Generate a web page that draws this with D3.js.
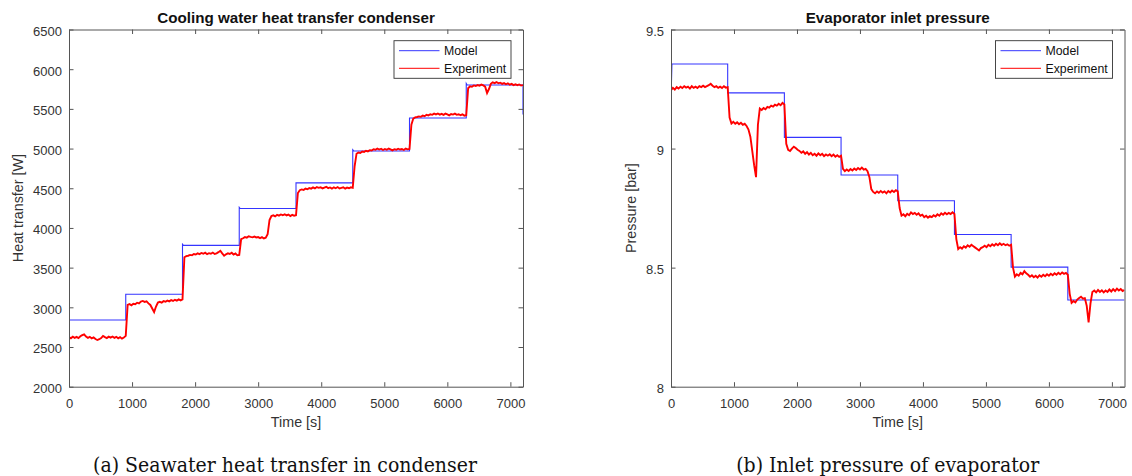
<!DOCTYPE html>
<html>
<head>
<meta charset="utf-8">
<title>Model vs experiment</title>
<script src="https://cdn.jsdelivr.net/npm/d3@7"></script>
<style>
    body { margin: 0; background: #fff; }
    svg text { font-family: "Liberation Sans", Arial, Helvetica, sans-serif; }
</style>
</head>
<body>
<svg id="fig" width="1132" height="476"></svg>
<script>
// ---- data ----
const dt = 30; // spacing of the logged experiment samples [s]
const xTicks = [0, 1000, 2000, 3000, 4000, 5000, 6000, 7000];
const qTicks = [2000, 2500, 3000, 3500, 4000, 4500, 5000, 5500, 6000, 6500];
const pTicks = [8, 8.5, 9, 9.5];
const legendLabels = ["Model", "Experiment"];

// model: step changes every 900 s
const qModelT = [0, 0, 900, 900, 1800, 1800, 1815, 2700, 2700, 2715, 3600, 3600, 4500, 4500, 4515, 5400, 5400, 6300, 6300, 6315, 7200, 7200];
const qModel  = [3540, 2840, 2840, 3165, 3165, 3795, 3780, 3780, 4260, 4245, 4245, 4568, 4568, 4985, 4970, 4970, 5385, 5385, 5820, 5800, 5800, 5430];

const pModelT = [0, 15, 900, 900, 1800, 1800, 2700, 2700, 3600, 3600, 4500, 4500, 5400, 5400, 6300, 6300, 7200];
const pModel  = [9.20, 9.355, 9.355, 9.234, 9.234, 9.047, 9.047, 8.889, 8.889, 8.781, 8.781, 8.639, 8.639, 8.502, 8.502, 8.364, 8.364];

// experiment: heat transfer [W], one value every dt seconds from 0 to 7200
const qExp = [
    2625, 2610, 2630, 2615, 2628, 2612, 2635, 2650, 2660, 2632, 2615, 2628, 2608, 2620, 2600, 2588, 2598, 2612, 2640, 2625,
    2612, 2630, 2618, 2632, 2615, 2628, 2610, 2625, 2605, 2620,
    2640, 3030, 3040, 3025, 3045, 3040, 3058, 3050, 3072, 3080, 3068, 3075, 3050, 3030, 2985, 2940, 3010, 3060, 3070, 3060,
    3078, 3070, 3085, 3075, 3090, 3080, 3095, 3085, 3100, 3088,
    3100, 3630, 3645, 3650, 3660, 3655, 3672, 3665, 3680, 3670, 3685, 3675, 3688, 3670, 3682, 3675, 3690, 3672, 3680, 3695,
    3712, 3680, 3650, 3668, 3680, 3672, 3688, 3665, 3678, 3655,
    3660, 3858, 3870, 3885, 3878, 3895, 3888, 3882, 3892, 3880, 3885, 3872, 3884, 3868, 3878, 3920, 4100, 4150, 4158, 4145,
    4165, 4155, 4170, 4160, 4172, 4158, 4168, 4150, 4165, 4155,
    4160, 4440, 4475, 4485, 4478, 4495, 4488, 4502, 4495, 4510, 4498, 4515, 4505, 4512, 4498, 4508, 4518, 4502, 4510, 4495,
    4512, 4500, 4515, 4498, 4505, 4512, 4495, 4508, 4500, 4512,
    4505, 4780, 4935, 4950, 4945, 4962, 4958, 4972, 4965, 4980, 4975, 4992, 4985, 5000, 4988, 4998, 4982, 4995, 4985, 5000,
    4990, 4978, 4992, 4985, 4998, 4988, 4995, 4982, 5000, 4990,
    4995, 5300, 5378, 5392, 5398, 5405, 5400, 5415, 5408, 5425, 5418, 5432, 5425, 5440, 5430, 5442, 5428, 5438, 5425, 5440,
    5430, 5418, 5435, 5428, 5440, 5425, 5432, 5420, 5430, 5415,
    5420, 5760, 5785, 5778, 5795, 5788, 5800, 5792, 5805, 5795, 5780, 5700, 5750, 5815, 5835, 5825, 5838, 5822, 5830, 5815,
    5825, 5810, 5822, 5805, 5815, 5800, 5810, 5798, 5808, 5795, 5800
];

// experiment: evaporator inlet pressure [bar], one value every dt seconds
const pExp = [
    9.245, 9.255, 9.248, 9.258, 9.252, 9.260, 9.254, 9.262, 9.256, 9.260, 9.252, 9.262, 9.255, 9.260, 9.254, 9.262, 9.258, 9.264, 9.258, 9.262,
    9.266, 9.272, 9.264, 9.258, 9.262, 9.255, 9.260, 9.254, 9.262, 9.256,
    9.258, 9.130, 9.105, 9.112, 9.104, 9.110, 9.102, 9.108, 9.100, 9.104, 9.095, 9.080, 9.050, 8.990, 8.930, 8.880, 9.100, 9.168, 9.162, 9.170,
    9.165, 9.175, 9.172, 9.180, 9.176, 9.184, 9.180, 9.188, 9.182, 9.192,
    9.185, 9.020, 8.995, 8.990, 9.000, 9.008, 9.002, 8.995, 8.990, 8.982, 8.988, 8.978, 8.985, 8.975, 8.982, 8.972, 8.978, 8.970, 8.980, 8.972,
    8.978, 8.968, 8.975, 8.970, 8.976, 8.968, 8.975, 8.966, 8.972, 8.965,
    8.970, 8.915, 8.905, 8.912, 8.906, 8.914, 8.908, 8.916, 8.910, 8.918, 8.912, 8.920, 8.912, 8.915, 8.905, 8.880, 8.830, 8.818, 8.812, 8.820,
    8.814, 8.822, 8.815, 8.820, 8.812, 8.822, 8.816, 8.824, 8.818, 8.825,
    8.820, 8.750, 8.718, 8.724, 8.716, 8.726, 8.720, 8.732, 8.725, 8.730, 8.722, 8.728, 8.718, 8.722, 8.712, 8.718, 8.710, 8.716, 8.712, 8.720,
    8.715, 8.724, 8.718, 8.728, 8.722, 8.730, 8.724, 8.730, 8.725, 8.732,
    8.725, 8.620, 8.578, 8.586, 8.580, 8.590, 8.584, 8.594, 8.588, 8.596, 8.590, 8.584, 8.578, 8.572, 8.582, 8.586, 8.592, 8.586, 8.596, 8.590,
    8.598, 8.592, 8.600, 8.594, 8.602, 8.595, 8.600, 8.594, 8.598, 8.592,
    8.596, 8.500, 8.462, 8.472, 8.466, 8.478, 8.472, 8.485, 8.476, 8.470, 8.462, 8.468, 8.460, 8.466, 8.458, 8.468, 8.462, 8.470, 8.464, 8.472,
    8.466, 8.474, 8.468, 8.476, 8.470, 8.478, 8.472, 8.480, 8.474, 8.478,
    8.470, 8.390, 8.352, 8.360, 8.354, 8.366, 8.372, 8.378, 8.370, 8.372, 8.340, 8.270, 8.350, 8.398, 8.404, 8.396, 8.406, 8.398, 8.405, 8.396,
    8.404, 8.398, 8.408, 8.400, 8.410, 8.402, 8.412, 8.404, 8.410, 8.402, 8.406
];

// ---- drawing ----
const svg = d3.select("#fig");
const plotTop = 29.5, plotBottom = 386.7;
const axisColor = "#555", textColor = "#333";
const seriesColors = ["#3535ff", "#ff0000"];

function panel(o) {
    const x = d3.scaleLinear().domain([0, 7200]).range([o.left, o.right]);
    const y = d3.scaleLinear().domain(o.yDomain).range([plotBottom, plotTop]);
    const g = svg.append("g");
    const cx = (o.left + o.right) / 2;

    g.append("clipPath").attr("id", "clip" + o.id)
        .append("rect").attr("x", o.left).attr("y", plotTop)
        .attr("width", o.right - o.left).attr("height", plotBottom - plotTop);

    const line = d3.line().x(d => x(d[0])).y(d => y(d[1]));
    const plot = g.append("g").attr("clip-path", `url(#clip${o.id})`);
    plot.append("path")
        .datum(o.modelT.map((t, i) => [t, o.model[i]]))
        .attr("d", line).attr("fill", "none")
        .attr("stroke", seriesColors[0]).attr("stroke-width", 1.1);
    plot.append("path")
        .datum(o.exp.map((v, i) => [i * dt, v]))
        .attr("d", line).attr("fill", "none")
        .attr("stroke", seriesColors[1]).attr("stroke-width", 1.9)
        .attr("stroke-linejoin", "miter");

    // MATLAB style box with inward ticks on all sides
    const style = sel => {
        sel.selectAll(".domain, .tick line").attr("stroke", axisColor);
        sel.selectAll("text").attr("fill", textColor).style("font-size", "13px");
    };
    g.append("g").attr("transform", `translate(0,${plotBottom})`)
        .call(d3.axisBottom(x).tickValues(xTicks).tickSizeInner(-4.5).tickSizeOuter(0)
            .tickPadding(11.6).tickFormat(d3.format("d")))
        .call(style);
    g.append("g").attr("transform", `translate(0,${plotTop})`)
        .call(d3.axisTop(x).tickValues(xTicks).tickSizeInner(-4.5).tickSizeOuter(0).tickFormat(""))
        .call(style);
    g.append("g").attr("transform", `translate(${o.left},0)`)
        .call(d3.axisLeft(y).tickValues(o.yTicks).tickSizeInner(-4.5).tickSizeOuter(0)
            .tickPadding(7).tickFormat(d3.format("")))
        .call(style)
        .selectAll("text").attr("dy", "0.45em");
    g.append("g").attr("transform", `translate(${o.right},0)`)
        .call(d3.axisRight(y).tickValues(o.yTicks).tickSizeInner(-4.5).tickSizeOuter(0).tickFormat(""))
        .call(style);

    g.append("text").attr("x", cx).attr("y", 23.3).attr("text-anchor", "middle")
        .style("font-size", "15.2px").style("font-weight", "bold").attr("fill", "#111")
        .text(o.title);
    g.append("text").attr("x", cx).attr("y", 427).attr("text-anchor", "middle")
        .style("font-size", "14.3px").attr("fill", textColor).text("Time [s]");
    g.append("text")
        .attr("transform", `translate(${o.ylabelX},${(plotTop + plotBottom) / 2}) rotate(-90)`)
        .attr("text-anchor", "middle").style("font-size", "14.3px").attr("fill", textColor)
        .text(o.ylabel);

    // legend
    const lw = 117, lh = 37.6;
    const lg = g.append("g").attr("transform", `translate(${o.right - 12 - lw},40.7)`);
    lg.append("rect").attr("width", lw).attr("height", lh)
        .attr("fill", "#fff").attr("stroke", "#333").attr("stroke-width", 0.9);
    legendLabels.forEach((lab, i) => {
        const yy = 10 + i * 17.6;
        lg.append("line").attr("x1", 5).attr("x2", 45.5).attr("y1", yy).attr("y2", yy)
            .attr("stroke", seriesColors[i]).attr("stroke-width", 1);
        lg.append("text").attr("x", 50).attr("y", yy).attr("dy", "0.36em")
            .style("font-size", "12.3px").attr("fill", "#111").text(lab);
    });

    // sub-figure caption: serif, narrowed horizontally to the width it has in the page
    const cap = svg.append("text").attr("text-anchor", "middle")
        .style("font-family", "'DejaVu Serif', serif").style("font-size", "20.5px")
        .attr("fill", "#111").text(o.caption);
    const sx = o.capW / cap.node().getComputedTextLength();
    cap.attr("transform", `translate(${o.capX},472) scale(${sx.toFixed(3)},1)`);
}

panel({
    id: "a", left: 69, right: 523, yDomain: [2000, 6500], yTicks: qTicks,
    modelT: qModelT, model: qModel, exp: qExp,
    title: "Cooling water heat transfer condenser", ylabel: "Heat transfer [W]", ylabelX: 23,
    caption: "(a) Seawater heat transfer in condenser", capX: 285, capW: 384
});
panel({
    id: "b", left: 671, right: 1124.5, yDomain: [8, 9.5], yTicks: pTicks,
    modelT: pModelT, model: pModel, exp: pExp,
    title: "Evaporator inlet pressure", ylabel: "Pressure [bar]", ylabelX: 636,
    caption: "(b) Inlet pressure of evaporator", capX: 887.7, capW: 303
});
</script>
</body>
</html>
